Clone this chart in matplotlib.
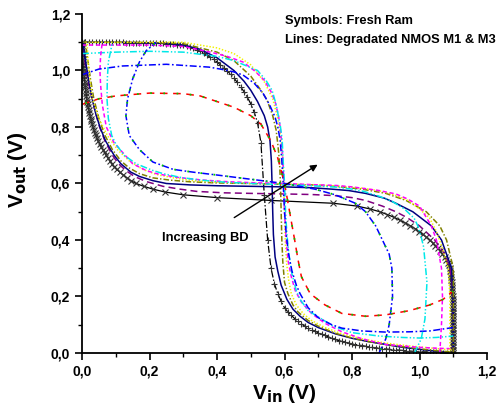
import matplotlib
matplotlib.use("Agg")
import matplotlib.pyplot as plt
from matplotlib.ticker import FuncFormatter, MultipleLocator

plt.rcParams['font.family'] = ['Liberation Sans', 'DejaVu Sans']
plt.rcParams['font.weight'] = 'bold'
plt.rcParams['lines.scale_dashes'] = False

# fresh cell, forward VTC (Vin swept 0..1.1 V in 10 mV steps)
vin_fresh = [i / 100 for i in range(111)]
vout_fresh = [
    1.100, 1.100, 1.100, 1.100, 1.100, 1.100, 1.100, 1.100, 1.100, 1.100,
    1.100, 1.100, 1.100, 1.099, 1.099, 1.099, 1.099, 1.099, 1.098, 1.098,
    1.098, 1.097, 1.097, 1.096, 1.096, 1.095, 1.094, 1.093, 1.092, 1.091,
    1.090, 1.087, 1.083, 1.079, 1.074, 1.068, 1.062, 1.055, 1.047, 1.039,
    1.030, 1.020, 1.010, 0.999, 0.987, 0.973, 0.958, 0.942, 0.925, 0.905,
    0.882, 0.853, 0.815, 0.745, 0.560, 0.400, 0.300, 0.245, 0.210, 0.183,
    0.160, 0.145, 0.133, 0.122, 0.112, 0.103, 0.095, 0.088, 0.082, 0.077,
    0.072, 0.067, 0.062, 0.057, 0.052, 0.048, 0.044, 0.041, 0.038, 0.035,
    0.032, 0.030, 0.028, 0.026, 0.024, 0.022, 0.020, 0.018, 0.017, 0.015,
    0.014, 0.013, 0.012, 0.011, 0.010, 0.009, 0.008, 0.007, 0.006, 0.006,
    0.005, 0.004, 0.004, 0.003, 0.003, 0.002, 0.002, 0.001, 0.001, 0.000,
    0.000,
]

# degraded cells, forward VTCs (Vin, Vout), least to most degraded
navy_x = [0, 0.1, 0.2, 0.25, 0.3, 0.35, 0.4, 0.45, 0.48, 0.5, 0.52, 0.54, 0.55, 0.557, 0.561, 0.563,
          0.565, 0.567, 0.572, 0.58, 0.59, 0.607, 0.625, 0.646, 0.67, 0.7, 0.75, 0.8, 0.85, 0.9, 0.95, 1.0, 1.05, 1.1]
navy_y = [1.1, 1.1, 1.098, 1.096, 1.09, 1.075, 1.045, 1.0, 0.962, 0.93, 0.89, 0.84, 0.8, 0.75, 0.68, 0.6,
          0.5, 0.42, 0.34, 0.29, 0.24, 0.19, 0.155, 0.13, 0.108, 0.09, 0.068, 0.052, 0.04, 0.03, 0.02, 0.013, 0.006, 0.0]

olive_x = [0, 0.1, 0.2, 0.3, 0.4, 0.45, 0.5, 0.53, 0.548, 0.565, 0.575, 0.58, 0.585, 0.588, 0.59, 0.592,
           0.595, 0.6, 0.61, 0.625, 0.64, 0.67, 0.7, 0.75, 0.8, 0.85, 0.9, 0.95, 1.0, 1.05, 1.1]
olive_y = [1.1, 1.1, 1.099, 1.095, 1.065, 1.035, 0.98, 0.93, 0.896, 0.84, 0.79, 0.74, 0.68, 0.6, 0.5, 0.4,
           0.32, 0.25, 0.21, 0.17, 0.145, 0.115, 0.095, 0.07, 0.053, 0.04, 0.03, 0.022, 0.015, 0.008, 0.003]

yellow_x = [0, 0.1, 0.2, 0.3, 0.4, 0.45, 0.5, 0.54, 0.565, 0.58, 0.59, 0.595, 0.597, 0.6, 0.602, 0.606,
            0.612, 0.62, 0.635, 0.655, 0.68, 0.72, 0.77, 0.83, 0.9, 0.97, 1.03, 1.1]
yellow_y = [1.1, 1.1, 1.1, 1.1, 1.08, 1.06, 1.02, 0.96, 0.9, 0.83, 0.75, 0.68, 0.6, 0.5, 0.4, 0.32,
            0.26, 0.21, 0.17, 0.14, 0.115, 0.09, 0.068, 0.05, 0.035, 0.025, 0.018, 0.01]

magenta_x = [0, 0.1, 0.2, 0.3, 0.38, 0.43, 0.477, 0.51, 0.54, 0.56, 0.572, 0.582, 0.587, 0.592, 0.595,
             0.598, 0.6, 0.605, 0.61, 0.62, 0.632, 0.65, 0.68, 0.72, 0.77, 0.83, 0.9, 1.0, 1.05, 1.1]
magenta_y = [1.09, 1.09, 1.09, 1.085, 1.065, 1.05, 1.03, 1.0, 0.966, 0.925, 0.89, 0.84, 0.8, 0.74, 0.69,
             0.6, 0.5, 0.4, 0.33, 0.27, 0.22, 0.18, 0.14, 0.105, 0.075, 0.05, 0.03, 0.02, 0.017, 0.015]

cyan_x = [0, 0.1, 0.2, 0.3, 0.4, 0.45, 0.52, 0.545, 0.563, 0.575, 0.58, 0.588, 0.593, 0.596, 0.6, 0.603,
          0.607, 0.613, 0.622, 0.635, 0.646, 0.67, 0.705, 0.744, 0.8, 0.88, 0.95, 1.0, 1.05, 1.1]
cyan_y = [1.06, 1.065, 1.068, 1.065, 1.05, 1.035, 1.0, 0.965, 0.93, 0.88, 0.85, 0.8, 0.754, 0.68, 0.6, 0.5,
          0.42, 0.35, 0.28, 0.22, 0.19, 0.15, 0.124, 0.095, 0.072, 0.06, 0.055, 0.053, 0.055, 0.06]

blue_x = [0, 0.05, 0.12, 0.25, 0.376, 0.41, 0.45, 0.477, 0.51, 0.536, 0.555, 0.572, 0.58, 0.587, 0.592,
          0.596, 0.6, 0.605, 0.612, 0.622, 0.635, 0.646, 0.67, 0.7, 0.74, 0.77, 0.83, 0.9, 0.97, 1.03, 1.07, 1.1]
blue_y = [0.985, 1.005, 1.016, 1.022, 1.012, 1.005, 0.995, 0.984, 0.955, 0.92, 0.88, 0.835, 0.8, 0.754, 0.68,
          0.6, 0.5, 0.42, 0.35, 0.29, 0.24, 0.21, 0.16, 0.125, 0.1, 0.088, 0.078, 0.074, 0.075, 0.078, 0.085, 0.09]

red_x = [0, 0.05, 0.1, 0.2, 0.3, 0.35, 0.4, 0.45, 0.5, 0.53, 0.56, 0.58, 0.6, 0.615, 0.63, 0.64, 0.65,
         0.676, 0.72, 0.77, 0.84, 0.9, 0.97, 1.03, 1.07, 1.1]
red_y = [0.88, 0.9, 0.91, 0.92, 0.918, 0.91, 0.89, 0.87, 0.84, 0.81, 0.75, 0.69, 0.6, 0.5, 0.4, 0.33, 0.27,
         0.21, 0.17, 0.14, 0.13, 0.135, 0.15, 0.17, 0.19, 0.22]

xticks = [0.0, 0.2, 0.4, 0.6, 0.8, 1.0, 1.2]
yticks = [0.0, 0.2, 0.4, 0.6, 0.8, 1.0, 1.2]

# line styles (dash patterns in points)
st_red = dict(color='#ff0000', ls=(0, (5.5, 4.0)))
st_blue = dict(color='#0000ff', ls=(0, (5.0, 1.8, 1.2, 1.8)))
st_cyan = dict(color='#00e8e8', ls=(0, (5.0, 1.5, 1.0, 1.5, 1.0, 1.5)))
st_magenta = dict(color='#ff00ff', ls=(0, (3.0, 2.0)))
st_yellow = dict(color='#f2f200', ls=(0, (1.0, 1.3)))
st_olive = dict(color='#808000', ls=(0, (4.0, 1.5, 1.0, 1.5)))
st_navy = dict(color='#000080', ls='-')
st_purple = dict(color='#800080', ls=(0, (5.0, 3.0)))
st_green = dict(color='#00cc00', ls=(7.0, (1.2, 8.3)))

fig = plt.figure(figsize=(4.98, 4.07), dpi=100)
ax = fig.add_axes([0.1647, 0.1327, 0.8133, 0.8329])

lw = 1.1
# fresh cell: forward with '+', mirrored with 'x'
ax.plot(vin_fresh, vout_fresh, color='black', lw=0.9, ls=(0, (5.0, 1.5, 1.0, 1.5)),
        marker='+', ms=5, mew=0.8, mec='#333333')
ax.plot(vout_fresh, vin_fresh, color='black', lw=0.9, ls='-',
        marker='x', ms=4, mew=0.8, mec='#333333')

curves = [
    (navy_x, navy_y, st_navy, st_purple),
    (olive_x, olive_y, st_olive, st_navy),
    (yellow_x, yellow_y, st_yellow, st_olive),
    (magenta_x, magenta_y, st_magenta, st_yellow),
    (cyan_x, cyan_y, st_cyan, st_magenta),
    (blue_x, blue_y, st_blue, st_cyan),
    (red_x, red_y, st_red, st_blue),
]
for cx, cy, fwd, mir in curves:
    ax.plot(cx, cy, lw=lw, **fwd)
    ax.plot(cy, cx, lw=lw, **mir)

# green dots along the most degraded pair
ax.plot(red_x, red_y, lw=1.3, **st_green)
ax.plot(red_y, red_x, lw=1.3, **st_green)

ax.annotate('', xy=(0.705, 0.672), xytext=(0.444, 0.474),
            arrowprops=dict(arrowstyle='-|>', color='black', lw=1.0, mutation_scale=10))
ax.text(0.365, 0.407, 'Increasing BD', fontsize=9.3, fontweight='bold', ha='center', va='center')
ax.text(0.60, 1.175, 'Symbols: Fresh Ram', fontsize=9.3, fontweight='bold', ha='left', va='center')
ax.text(0.60, 1.108, 'Lines: Degradated NMOS M1 & M3', fontsize=9.3, fontweight='bold', ha='left', va='center')

ax.set_xlim(0, 1.2)
ax.set_ylim(0, 1.2)
ax.set_xticks(xticks)
ax.set_yticks(yticks)
ax.xaxis.set_minor_locator(MultipleLocator(0.1))
ax.yaxis.set_minor_locator(MultipleLocator(0.1))
fmt = FuncFormatter(lambda v, p: ('%.1f' % v).replace('.', ','))
ax.xaxis.set_major_formatter(fmt)
ax.yaxis.set_major_formatter(fmt)
ax.tick_params(which='major', direction='out', length=5, width=1.2, labelsize=10)
ax.tick_params(which='minor', direction='out', length=3, width=1.0)
for lab in ax.get_xticklabels() + ax.get_yticklabels():
    lab.set_fontweight('bold')
ax.spines['top'].set_visible(False)
ax.spines['right'].set_visible(False)
ax.spines['left'].set_linewidth(1.3)
ax.spines['bottom'].set_linewidth(1.3)

ax.set_xlabel('V$_{\\mathbf{in}}$ (V)', fontsize=15, fontweight='bold', labelpad=2)
ax.set_ylabel('V$_{\\mathbf{out}}$ (V)', fontsize=15, fontweight='bold')
ax.yaxis.set_label_coords(-0.13, 0.54)

fig.savefig('out.png', dpi=100)
